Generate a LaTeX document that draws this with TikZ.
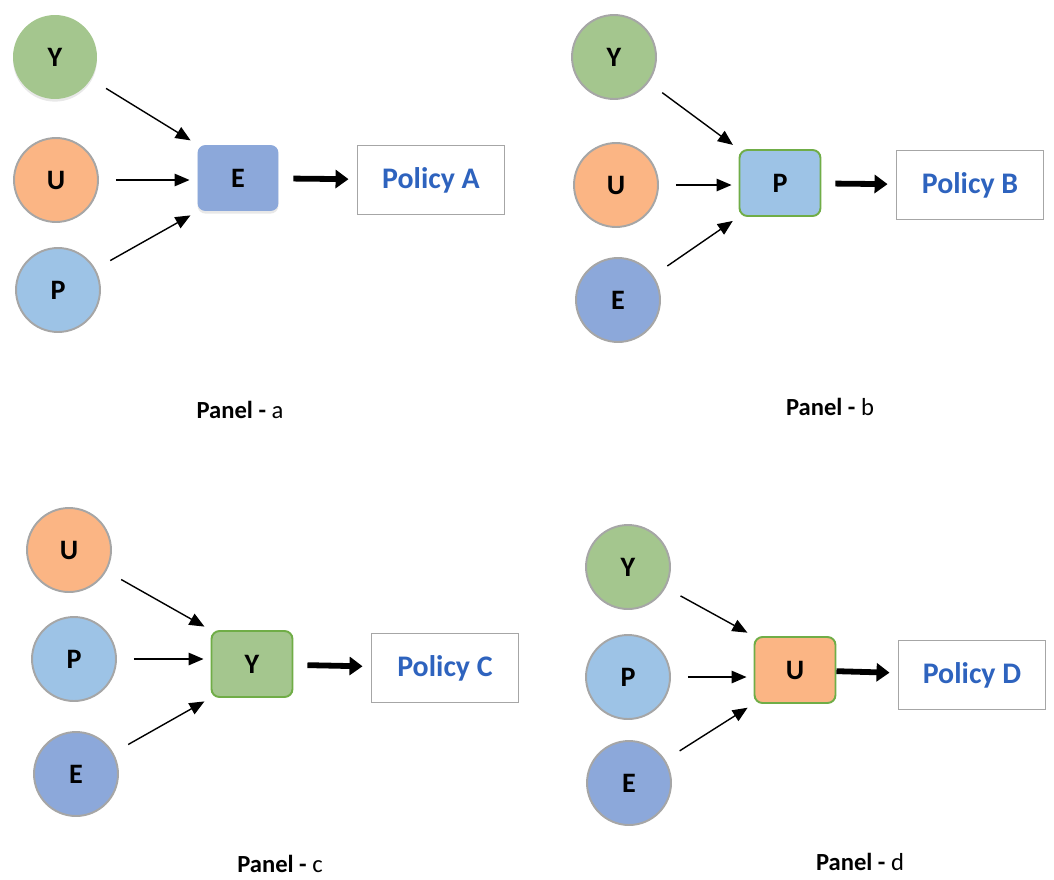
\documentclass[tikz,border=0pt]{standalone}
\usepackage{fontspec}
\setmainfont{Carlito}
\usetikzlibrary{arrows.meta,shadows}

\definecolor{ygreen}{HTML}{A4C68E}
\definecolor{uorange}{HTML}{FBB584}
\definecolor{plblue}{HTML}{9DC3E6}
\definecolor{emblue}{HTML}{8CA8DA}
\definecolor{rimgray}{HTML}{A6A6A6}
\definecolor{rimgreen}{HTML}{70AD47}
\definecolor{policyblue}{HTML}{2E63BE}

\tikzset{
  factor/.style={circle, draw=rimgray, line width=1.1pt, minimum size=1.68cm, inner sep=0pt,
    font=\bfseries\fontsize{16}{18}\selectfont},
  hub/.style={rounded corners=0.16cm, draw=rimgreen, line width=1.1pt, minimum width=1.62cm,
    minimum height=1.32cm, font=\bfseries\fontsize{16}{18}\selectfont},
  policy/.style={draw=rimgray, line width=1.1pt, minimum width=2.94cm, minimum height=1.38cm,
    text=policyblue, font=\bfseries\fontsize{17}{19}\selectfont},
  feed/.style={-{Triangle[length=0.3cm,width=0.25cm]}, line width=0.8pt,
    shorten <=0.34cm, shorten >=0.14cm},
  leads/.style={-{Triangle[length=0.26cm,width=0.36cm]}, line width=3.3pt,
    shorten <=0.28cm, shorten >=0.16cm},
  caption/.style={font=\fontsize{14}{16}\selectfont},
  soft/.style={draw=none, drop shadow={shadow xshift=0pt, shadow yshift=-1.5pt, opacity=0.18}}
}

\begin{document}
\begin{tikzpicture}[x=0.02cm, y=-0.02cm]
  \useasboundingbox (0,0) rectangle (1054,879);

  % panel a
  \node[factor, soft, fill=ygreen] (ya) at (55,57) {Y};
  \node[factor, fill=uorange] (ua) at (56,180) {U};
  \node[factor, fill=plblue] (pa) at (58,290) {P};
  \node[hub, soft, fill=emblue] (ea) at (238,178) {E};
  \node[policy] (pola) at (431,180) {Policy A};
  \node[caption] (capa) at (240,410) {\textbf{Panel -} a};
  \draw[feed] (ya) -- (ea.north west);
  \draw[feed] (ua) -- (ua -| ea.west);
  \draw[feed] (pa) -- (ea.south west);
  \draw[leads] (ea) -- (pola);

  % panel b
  \node[factor, fill=ygreen] (yb) at (614,57) {Y};
  \node[factor, fill=uorange] (ub) at (616,185) {U};
  \node[factor, fill=emblue] (eb) at (618,300) {E};
  \node[hub, fill=plblue] (pb) at (780,183) {P};
  \node[policy] (polb) at (970,185) {Policy B};
  \node[caption] (capb) at (830,407) {\textbf{Panel -} b};
  \draw[feed] (yb) -- (pb.north west);
  \draw[feed] (ub) -- (ub -| pb.west);
  \draw[feed] (eb) -- (pb.south west);
  \draw[leads] (pb) -- (polb);

  % panel c
  \node[factor, fill=uorange] (uc) at (69,550) {U};
  \node[factor, fill=plblue] (pc) at (74,659) {P};
  \node[factor, fill=emblue] (ec) at (76,774) {E};
  \node[hub, fill=ygreen] (yc) at (252,664) {Y};
  \node[policy] (polc) at (445,668) {Policy C};
  \node[caption] (capc) at (280,864) {\textbf{Panel -} c};
  \draw[feed] (uc) -- (yc.north west);
  \draw[feed] (pc) -- (pc -| yc.west);
  \draw[feed] (ec) -- (yc.south west);
  \draw[leads] (yc) -- (polc);

  % panel d
  \node[factor, fill=ygreen] (yd) at (628,567) {Y};
  \node[factor, fill=plblue] (pd) at (628,677) {P};
  \node[factor, fill=emblue] (ed) at (629,783) {E};
  \node[hub, fill=uorange] (ud) at (795,670) {U};
  \node[policy] (pold) at (972,675) {Policy D};
  \node[caption] (capd) at (860,862) {\textbf{Panel -} d};
  \draw[feed] (yd) -- (ud.north west);
  \draw[feed] (pd) -- (pd -| ud.west);
  \draw[feed] (ed) -- (ud.south west);
  \draw[leads, shorten <=0pt] (ud) -- (pold);
\end{tikzpicture}
\end{document}
